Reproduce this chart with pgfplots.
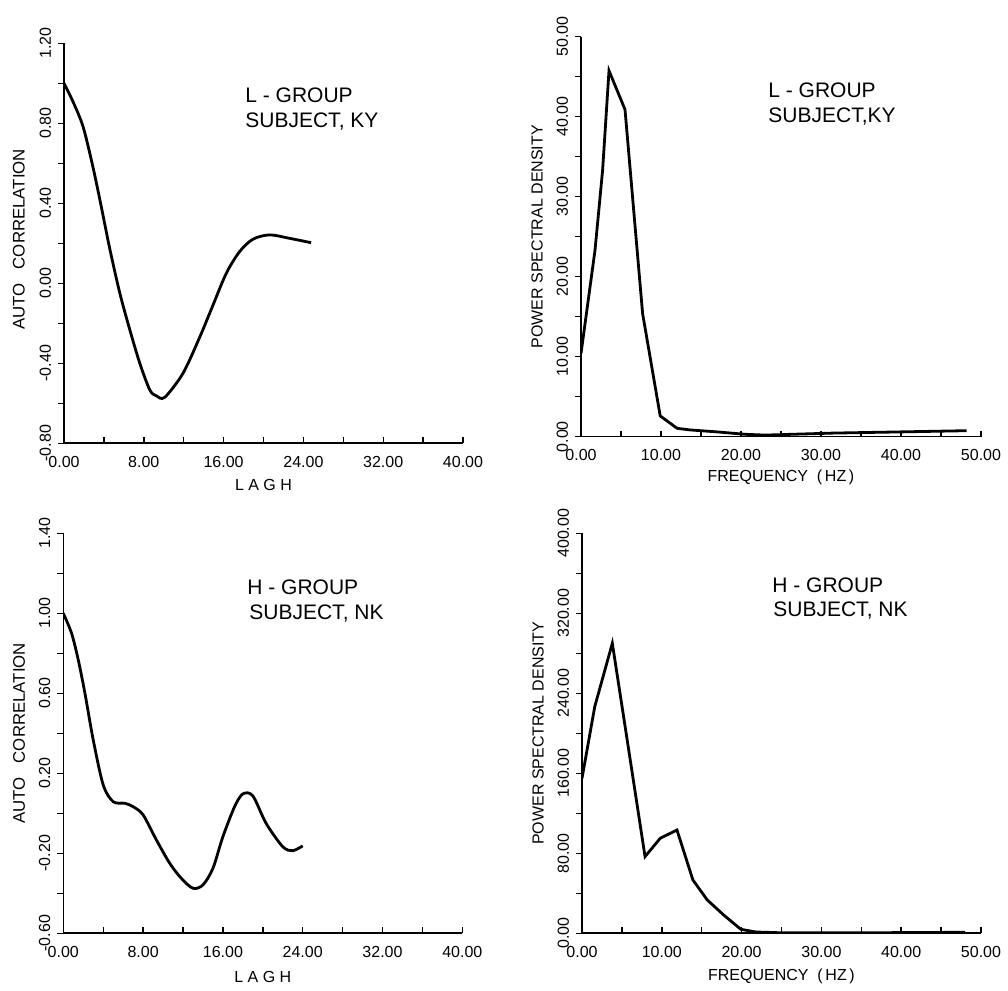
\documentclass[border=0pt]{standalone}
\usepackage{fontspec}
\setmainfont{Liberation Sans}
\usepackage{pgfplots}
\pgfplotsset{compat=1.18}

\pgfplotstableread{
x y
0 1.0
0.93 0.905
1.93 0.78
2.93 0.575
3.77 0.375
4.6 0.17
5.6 -0.05
6.6 -0.233
7.6 -0.40
8.6 -0.533
9.27 -0.563
10.1 -0.57
11.93 -0.45
13.6 -0.27
14.93 -0.11
16.27 0.05
17.6 0.158
18.93 0.22
20.6 0.242
22.6 0.225
24.77 0.203
}\acfL

\pgfplotstableread{
x y
0 10.4
1.75 23.3
2.7 33.3
3.5 45.75
5.5 40.9
7.7 15.4
9.9 2.6
12.0 1.05
13.6 0.85
17.0 0.6
20.5 0.3
23.0 0.2
31.5 0.45
40 0.6
48.2 0.75
}\psdL

\pgfplotstableread{
x y
0 1.0
0.83 0.9
1.5 0.767
2.17 0.6
3 0.367
4 0.142
5 0.058
6.17 0.05
7 0.033
8 -0.008
9.33 -0.133
10.67 -0.25
11.83 -0.325
13 -0.375
14 -0.358
15 -0.275
16 -0.117
17.17 0.033
18 0.097
19 0.087
20.33 -0.05
22 -0.167
23 -0.187
24 -0.163
}\acfH

\pgfplotstableread{
x y
0 155
1.6 226.7
3.8 290
5.4 207
7.9 76.7
9.8 95
11.9 103.3
13.9 53.3
15.7 33.3
17.8 18
19.9 4
21.8 1.3
25 0.5
35 0.5
48 1.0
}\psdH

\pgfplotsset{
  panel/.style={
    scale only axis,
    anchor=south west,
    axis lines=left,
    axis line style={-, line width=0.8pt},
    tick align=outside,
    major tick length=3pt,
    minor tick length=3pt,
    tick style={line width=0.7pt, black},
    x tick style={yshift=3pt},
    /pgf/number format/fixed,
    /pgf/number format/fixed zerofill,
    /pgf/number format/precision=2,
    /pgf/number format/assume math mode=true,
    tick label style={font=\fontsize{8}{9}\selectfont},
    label style={font=\fontsize{8}{9}\selectfont},
    yticklabel style={rotate=90, anchor=south},
    every axis plot/.append style={line width=1.4pt, black},
  },
}
\tikzset{ann/.style={anchor=base west, inner sep=0pt, font=\fontsize{10.5}{12}\selectfont}}

\begin{document}
\begin{tikzpicture}
\path (0,0) rectangle (504pt,492.5pt);

% top-left
\begin{axis}[panel, at={(32pt,270.85pt)}, width=199.5pt, height=200pt,
  xmin=0, xmax=40, ymin=-0.8, ymax=1.2,
  xtick={0,8,...,40}, minor xtick={4,12,20,28,36},
  ytick={-0.8,-0.4,0,0.4,0.8,1.2}, minor ytick={-0.6,-0.2,0.2,0.6,1.0},
  xlabel={L A G H}, ylabel={AUTO\hspace{7pt}CORRELATION},
  xlabel style={at={(axis description cs:0.5,-0.105)}, anchor=center},
  ylabel style={at={(axis description cs:-0.113,0.51)}, anchor=center, rotate=0, font=\fontsize{8.4}{9}\selectfont},
]
\addplot[smooth] table[x=x,y=y] {\acfL};
\end{axis}

% top-right
\begin{axis}[panel, at={(290.5pt,274.15pt)}, width=200pt, height=200pt,
  xmin=0, xmax=50, ymin=0, ymax=50,
  xtick={0,10,...,50}, minor xtick={5,15,...,45},
  ytick={0,10,...,50}, minor ytick={5,15,...,45},
  xlabel={FREQUENCY\ \ (\,HZ\,)}, ylabel={POWER SPECTRAL DENSITY},
  xlabel style={at={(axis description cs:0.5,-0.102)}, anchor=center},
  ylabel style={at={(axis description cs:-0.11,0.5)}, anchor=center, rotate=0},
]
\addplot[sharp plot] table[x=x,y=y] {\psdL};
\end{axis}

% bottom-left
\begin{axis}[panel, at={(31.65pt,25.85pt)}, width=199.5pt, height=200pt,
  xmin=0, xmax=40, ymin=-0.6, ymax=1.4,
  xtick={0,8,...,40}, minor xtick={4,12,20,28,36},
  ytick={-0.6,-0.2,0.2,0.6,1.0,1.4}, minor ytick={-0.4,0,0.4,0.8,1.2},
  xlabel={L A G H}, ylabel={AUTO\hspace{7pt}CORRELATION},
  xlabel style={at={(axis description cs:0.5,-0.11)}, anchor=center},
  ylabel style={at={(axis description cs:-0.111,0.5)}, anchor=center, rotate=0, font=\fontsize{8.4}{9}\selectfont},
]
\addplot[smooth] table[x=x,y=y] {\acfH};
\end{axis}

% bottom-right
\begin{axis}[panel, at={(291pt,25.85pt)}, width=199.5pt, height=200pt,
  xmin=0, xmax=50, ymin=0, ymax=400,
  xtick={0,10,...,50}, minor xtick={5,15,...,45},
  ytick={0,80,...,400}, minor ytick={40,120,...,360},
  xlabel={FREQUENCY\ \ (\,HZ\,)}, ylabel={POWER SPECTRAL DENSITY},
  xlabel style={at={(axis description cs:0.5,-0.107)}, anchor=center},
  ylabel style={at={(axis description cs:-0.11,0.5)}, anchor=center, rotate=0},
]
\addplot[sharp plot] table[x=x,y=y] {\psdH};
\end{axis}

\node[ann] at (122.5pt,441pt) {L - GROUP};
\node[ann] at (122.5pt,428.5pt) {SUBJECT, KY};
\node[ann] at (384pt,443.5pt) {L - GROUP};
\node[ann] at (384pt,431pt) {SUBJECT,KY};
\node[ann] at (123.5pt,195pt) {H - GROUP};
\node[ann] at (124.5pt,182.5pt) {SUBJECT, NK};
\node[ann] at (386pt,196pt) {H - GROUP};
\node[ann] at (386.5pt,184pt) {SUBJECT, NK};
\end{tikzpicture}
\end{document}
